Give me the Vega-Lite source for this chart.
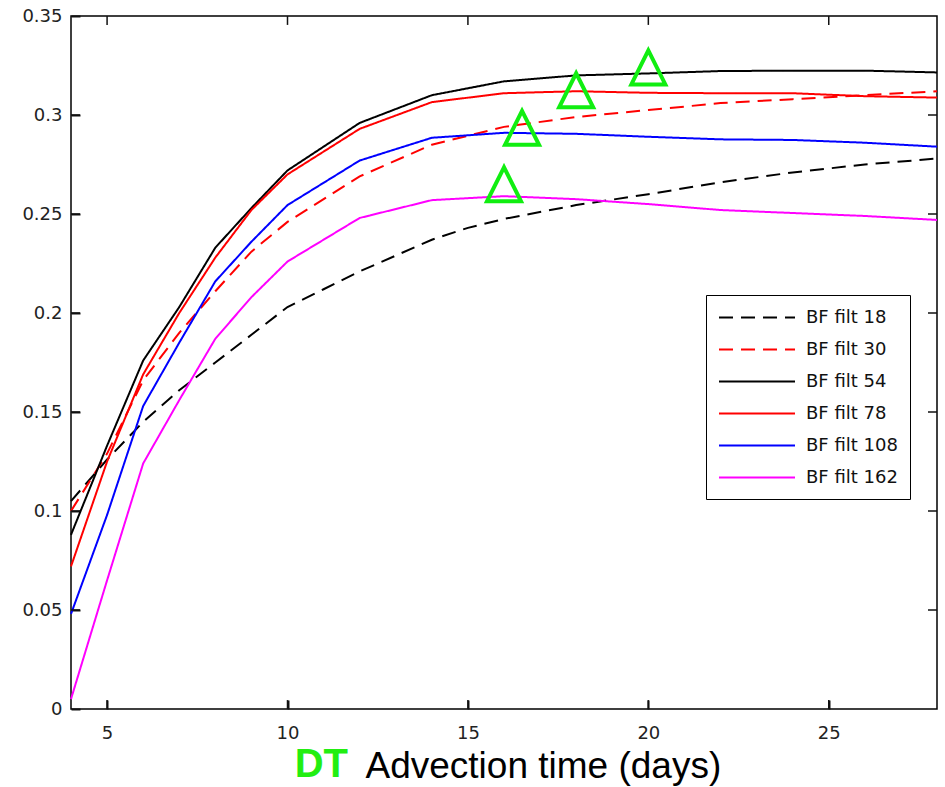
{
  "$schema": "https://vega.github.io/schema/vega-lite/v6.json",
  "width": 866,
  "height": 693,
  "autosize": "none",
  "padding": {"left": 71, "top": 16, "right": 8, "bottom": 78},
  "background": "white",
  "config": {
    "view": {"stroke": "black", "strokeWidth": 1.5},
    "axis": {"grid": false, "domain": false, "labelFont": "DejaVu Sans", "labelFontSize": 18, "labelColor": "#222222"}
  },
  "datasets": {
    "curves": [
      {"series": "BF filt 18", "x": 4, "y": 0.105},
      {"series": "BF filt 18", "x": 5, "y": 0.126},
      {"series": "BF filt 18", "x": 6, "y": 0.145},
      {"series": "BF filt 18", "x": 7, "y": 0.161},
      {"series": "BF filt 18", "x": 8, "y": 0.175},
      {"series": "BF filt 18", "x": 9, "y": 0.189},
      {"series": "BF filt 18", "x": 10, "y": 0.203},
      {"series": "BF filt 18", "x": 11, "y": 0.212},
      {"series": "BF filt 18", "x": 12, "y": 0.221},
      {"series": "BF filt 18", "x": 13, "y": 0.229},
      {"series": "BF filt 18", "x": 14, "y": 0.237},
      {"series": "BF filt 18", "x": 15, "y": 0.243},
      {"series": "BF filt 18", "x": 16, "y": 0.2475},
      {"series": "BF filt 18", "x": 18, "y": 0.2545},
      {"series": "BF filt 18", "x": 20, "y": 0.26},
      {"series": "BF filt 18", "x": 22, "y": 0.266},
      {"series": "BF filt 18", "x": 24, "y": 0.271},
      {"series": "BF filt 18", "x": 26, "y": 0.275},
      {"series": "BF filt 18", "x": 28, "y": 0.278},

      {"series": "BF filt 30", "x": 4, "y": 0.1},
      {"series": "BF filt 30", "x": 5, "y": 0.129},
      {"series": "BF filt 30", "x": 6, "y": 0.166},
      {"series": "BF filt 30", "x": 7, "y": 0.19},
      {"series": "BF filt 30", "x": 8, "y": 0.211},
      {"series": "BF filt 30", "x": 9, "y": 0.231},
      {"series": "BF filt 30", "x": 10, "y": 0.246},
      {"series": "BF filt 30", "x": 12, "y": 0.269},
      {"series": "BF filt 30", "x": 14, "y": 0.285},
      {"series": "BF filt 30", "x": 16, "y": 0.294},
      {"series": "BF filt 30", "x": 18, "y": 0.299},
      {"series": "BF filt 30", "x": 20, "y": 0.3025},
      {"series": "BF filt 30", "x": 22, "y": 0.306},
      {"series": "BF filt 30", "x": 24, "y": 0.308},
      {"series": "BF filt 30", "x": 26, "y": 0.31},
      {"series": "BF filt 30", "x": 28, "y": 0.312},

      {"series": "BF filt 54", "x": 4, "y": 0.088},
      {"series": "BF filt 54", "x": 5, "y": 0.133},
      {"series": "BF filt 54", "x": 6, "y": 0.176},
      {"series": "BF filt 54", "x": 7, "y": 0.203},
      {"series": "BF filt 54", "x": 8, "y": 0.233},
      {"series": "BF filt 54", "x": 9, "y": 0.253},
      {"series": "BF filt 54", "x": 10, "y": 0.272},
      {"series": "BF filt 54", "x": 12, "y": 0.296},
      {"series": "BF filt 54", "x": 14, "y": 0.31},
      {"series": "BF filt 54", "x": 16, "y": 0.317},
      {"series": "BF filt 54", "x": 18, "y": 0.32},
      {"series": "BF filt 54", "x": 20, "y": 0.321},
      {"series": "BF filt 54", "x": 22, "y": 0.3222},
      {"series": "BF filt 54", "x": 24, "y": 0.3224},
      {"series": "BF filt 54", "x": 26, "y": 0.3224},
      {"series": "BF filt 54", "x": 28, "y": 0.3215},

      {"series": "BF filt 78", "x": 4, "y": 0.072},
      {"series": "BF filt 78", "x": 5, "y": 0.125},
      {"series": "BF filt 78", "x": 6, "y": 0.169},
      {"series": "BF filt 78", "x": 7, "y": 0.2},
      {"series": "BF filt 78", "x": 8, "y": 0.228},
      {"series": "BF filt 78", "x": 9, "y": 0.252},
      {"series": "BF filt 78", "x": 10, "y": 0.27},
      {"series": "BF filt 78", "x": 12, "y": 0.293},
      {"series": "BF filt 78", "x": 14, "y": 0.3065},
      {"series": "BF filt 78", "x": 16, "y": 0.311},
      {"series": "BF filt 78", "x": 18, "y": 0.312},
      {"series": "BF filt 78", "x": 20, "y": 0.3112},
      {"series": "BF filt 78", "x": 22, "y": 0.311},
      {"series": "BF filt 78", "x": 24, "y": 0.311},
      {"series": "BF filt 78", "x": 26, "y": 0.3095},
      {"series": "BF filt 78", "x": 28, "y": 0.3088},

      {"series": "BF filt 108", "x": 4, "y": 0.048},
      {"series": "BF filt 108", "x": 5, "y": 0.098},
      {"series": "BF filt 108", "x": 6, "y": 0.153},
      {"series": "BF filt 108", "x": 7, "y": 0.185},
      {"series": "BF filt 108", "x": 8, "y": 0.216},
      {"series": "BF filt 108", "x": 9, "y": 0.236},
      {"series": "BF filt 108", "x": 10, "y": 0.2545},
      {"series": "BF filt 108", "x": 12, "y": 0.277},
      {"series": "BF filt 108", "x": 14, "y": 0.2885},
      {"series": "BF filt 108", "x": 16, "y": 0.291},
      {"series": "BF filt 108", "x": 18, "y": 0.2905},
      {"series": "BF filt 108", "x": 20, "y": 0.289},
      {"series": "BF filt 108", "x": 22, "y": 0.2877},
      {"series": "BF filt 108", "x": 24, "y": 0.2874},
      {"series": "BF filt 108", "x": 26, "y": 0.286},
      {"series": "BF filt 108", "x": 28, "y": 0.284},

      {"series": "BF filt 162", "x": 4, "y": 0.005},
      {"series": "BF filt 162", "x": 5, "y": 0.065},
      {"series": "BF filt 162", "x": 6, "y": 0.124},
      {"series": "BF filt 162", "x": 7, "y": 0.156},
      {"series": "BF filt 162", "x": 8, "y": 0.187},
      {"series": "BF filt 162", "x": 9, "y": 0.208},
      {"series": "BF filt 162", "x": 10, "y": 0.226},
      {"series": "BF filt 162", "x": 12, "y": 0.248},
      {"series": "BF filt 162", "x": 14, "y": 0.257},
      {"series": "BF filt 162", "x": 16, "y": 0.259},
      {"series": "BF filt 162", "x": 18, "y": 0.2575},
      {"series": "BF filt 162", "x": 20, "y": 0.255},
      {"series": "BF filt 162", "x": 22, "y": 0.252},
      {"series": "BF filt 162", "x": 24, "y": 0.2505},
      {"series": "BF filt 162", "x": 26, "y": 0.249},
      {"series": "BF filt 162", "x": 28, "y": 0.247}
    ],
    "peaks": [
      {"x": 16, "y": 0.265},
      {"x": 16.5, "y": 0.2935},
      {"x": 18, "y": 0.3125},
      {"x": 20, "y": 0.324}
    ],
    "xticks": [{"v": 5}, {"v": 10}, {"v": 15}, {"v": 20}, {"v": 25}],
    "yticks": [{"v": 0.05}, {"v": 0.1}, {"v": 0.15}, {"v": 0.2}, {"v": 0.25}, {"v": 0.3}],
    "labels": [{"text": "DT"}]
  },
  "layer": [
    {
      "data": {"name": "curves"},
      "mark": {"type": "line", "strokeWidth": 2},
      "encoding": {
        "x": {
          "field": "x", "type": "quantitative",
          "scale": {"domain": [4, 28], "nice": false, "zero": false},
          "axis": {"orient": "bottom", "values": [5, 10, 15, 20, 25], "tickSize": -9, "tickWidth": 2, "tickColor": "#111111", "labelPadding": 24,
            "title": "Advection time (days)", "titleFont": "Liberation Sans", "titleFontSize": 37, "titleFontWeight": "normal", "titleColor": "black",
            "titleAlign": "left", "titleAnchor": "start", "titleX": 294, "titleY": 68, "titleBaseline": "alphabetic"}
        },
        "y": {
          "field": "y", "type": "quantitative",
          "scale": {"domain": [0, 0.35], "nice": false},
          "axis": {"orient": "left", "values": [0, 0.05, 0.1, 0.15, 0.2, 0.25, 0.3, 0.35], "format": ".2~f", "tickSize": -9, "tickWidth": 2, "tickColor": "#111111", "labelPadding": 18, "title": null}
        },
        "color": {
          "field": "series", "type": "nominal",
          "scale": {
            "domain": ["BF filt 18", "BF filt 30", "BF filt 54", "BF filt 78", "BF filt 108", "BF filt 162"],
            "range": ["#000000", "#ff0000", "#000000", "#ff0000", "#0000ff", "#ff00ff"]
          },
          "legend": {
            "title": null, "orient": "none", "legendX": 635, "legendY": 279,
            "strokeColor": "black", "fillColor": "white", "padding": 12, "rowPadding": 12,
            "symbolType": "M-1,0L7,0", "symbolSize": 361, "symbolStrokeWidth": 2, "labelOffset": 67,
            "labelFont": "DejaVu Sans", "labelFontSize": 18, "labelColor": "#111111"
          }
        },
        "strokeDash": {
          "field": "series", "type": "nominal",
          "scale": {
            "domain": ["BF filt 18", "BF filt 30", "BF filt 54", "BF filt 78", "BF filt 108", "BF filt 162"],
            "range": [[14, 8], [14, 8], [1, 0], [1, 0], [1, 0], [1, 0]]
          },
          "legend": {
            "title": null, "orient": "none", "legendX": 635, "legendY": 279,
            "strokeColor": "black", "fillColor": "white", "padding": 12, "rowPadding": 12,
            "symbolType": "M-1,0L7,0", "symbolSize": 361, "symbolStrokeWidth": 2, "labelOffset": 67,
            "labelFont": "DejaVu Sans", "labelFontSize": 18, "labelColor": "#111111"
          }
        }
      }
    },
    {
      "data": {"name": "peaks"},
      "mark": {"type": "point", "shape": "M0,-1L-1,1L1,1Z", "size": 1156, "filled": false, "stroke": "#11ee11", "strokeWidth": 4, "opacity": 1},
      "encoding": {
        "x": {"field": "x", "type": "quantitative", "axis": null},
        "y": {"field": "y", "type": "quantitative", "axis": null}
      }
    },
    {
      "data": {"name": "xticks"},
      "mark": {"type": "rule", "color": "#111111", "strokeWidth": 1.5},
      "encoding": {
        "x": {"field": "v", "type": "quantitative", "axis": null},
        "y": {"datum": 0, "type": "quantitative", "axis": null},
        "y2": {"datum": 0.0045}
      }
    },
    {
      "data": {"name": "xticks"},
      "mark": {"type": "rule", "color": "#111111", "strokeWidth": 1.5},
      "encoding": {
        "x": {"field": "v", "type": "quantitative", "axis": null},
        "y": {"datum": 0.35, "type": "quantitative", "axis": null},
        "y2": {"datum": 0.3455}
      }
    },
    {
      "data": {"name": "yticks"},
      "mark": {"type": "rule", "color": "#111111", "strokeWidth": 1.5},
      "encoding": {
        "y": {"field": "v", "type": "quantitative", "axis": null},
        "x": {"datum": 4, "type": "quantitative", "axis": null},
        "x2": {"datum": 4.25}
      }
    },
    {
      "data": {"name": "yticks"},
      "mark": {"type": "rule", "color": "#111111", "strokeWidth": 1.5},
      "encoding": {
        "y": {"field": "v", "type": "quantitative", "axis": null},
        "x": {"datum": 28, "type": "quantitative", "axis": null},
        "x2": {"datum": 27.75}
      }
    },
    {
      "data": {"name": "labels"},
      "mark": {"type": "text", "align": "left", "baseline": "alphabetic", "font": "Liberation Sans", "fontSize": 40, "fontWeight": "bold", "color": "#22ee11"},
      "encoding": {
        "text": {"field": "text"},
        "x": {"datum": 10.2, "type": "quantitative", "axis": null},
        "y": {"datum": -0.0345, "type": "quantitative", "axis": null}
      }
    }
  ],
  "resolve": {"axis": {"x": "independent", "y": "independent"}}
}
